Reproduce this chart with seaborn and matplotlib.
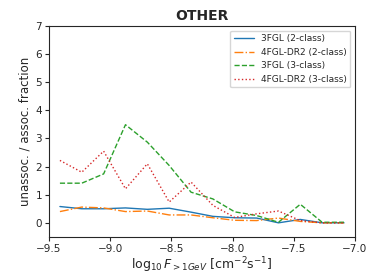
import numpy as np
import matplotlib
matplotlib.use("Agg")
import matplotlib.pyplot as plt
import seaborn as sns

# bin centres of log10 flux (14 bins between -9.5 and -7.0)
edges = np.linspace(-9.5, -7.0, 15)
flux_centres = 0.5 * (edges[:-1] + edges[1:])

ratio_3fgl_2class = [0.58, 0.50, 0.50, 0.53, 0.48, 0.52, 0.38, 0.23, 0.18, 0.17, 0.00, 0.12, 0.00, 0.00]
ratio_4fgl_2class = [0.40, 0.56, 0.53, 0.40, 0.42, 0.28, 0.28, 0.18, 0.09, 0.08, 0.17, 0.05, 0.00, 0.00]
ratio_3fgl_3class = [1.41, 1.41, 1.74, 3.49, 2.87, 2.04, 1.09, 0.85, 0.39, 0.26, 0.02, 0.66, 0.02, 0.02]
ratio_4fgl_3class = [2.22, 1.80, 2.55, 1.21, 2.10, 0.74, 1.45, 0.62, 0.19, 0.32, 0.42, 0.08, 0.00, 0.00]

series = [
    ("3FGL (2-class)", ratio_3fgl_2class, "-"),
    ("4FGL-DR2 (2-class)", ratio_4fgl_2class, "-."),
    ("3FGL (3-class)", ratio_3fgl_3class, "--"),
    ("4FGL-DR2 (3-class)", ratio_4fgl_3class, ":"),
]

sns.set_style("ticks")
colors = sns.color_palette("tab10")

fig = plt.figure(figsize=(3.74, 2.8), dpi=100)
ax = fig.add_axes([0.131, 0.154, 0.818, 0.753])

for i, (label, vals, ls) in enumerate(series):
    sns.lineplot(x=flux_centres, y=vals, ax=ax, color=colors[i], linestyle=ls,
                 linewidth=1.0, label=label)

ax.set_xlim(-9.5, -7.0)
ax.set_ylim(-0.5, 7)
ax.set_yticks(range(0, 8))
ax.tick_params(labelsize=7.5, length=3, pad=2)
ax.set_xlabel(r"$\log_{10}F_{>1GeV}$ [cm$^{-2}$s$^{-1}$]", fontsize=9, labelpad=1)
ax.set_ylabel("unassoc. / assoc. fraction", fontsize=8.5, labelpad=3)
ax.set_title("OTHER", fontsize=10, fontweight="bold", pad=4)
ax.legend(loc="upper right", fontsize=6.5, handlelength=2.2)

fig.savefig("out.png", dpi=100)
